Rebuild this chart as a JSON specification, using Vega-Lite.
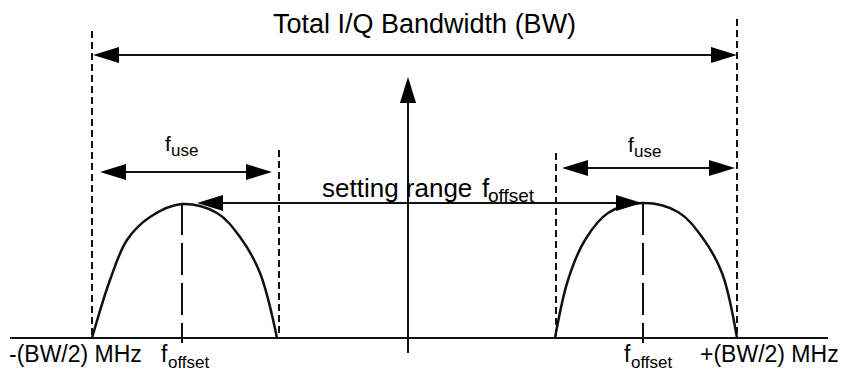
{
  "$schema": "https://vega.github.io/schema/vega-lite/v6.json",
  "width": 845,
  "height": 371,
  "autosize": {"type": "fit", "contains": "padding"},
  "padding": 0,
  "background": "white",
  "config": {"view": {"stroke": null}},
  "datasets": {
    "solid": [
      {"name": "baseline", "x": 10, "x2": 828, "y": 338, "y2": 338},
      {"name": "vertical", "x": 408, "x2": 408, "y": 90, "y2": 353},
      {"name": "bw", "x": 100, "x2": 730, "y": 55, "y2": 55},
      {"name": "fuse_left", "x": 110, "x2": 262, "y": 172, "y2": 172},
      {"name": "fuse_right", "x": 572, "x2": 725, "y": 168, "y2": 168},
      {"name": "setting", "x": 210, "x2": 630, "y": 203, "y2": 203}
    ],
    "dashed": [
      {"x": 92, "y": 31, "y2": 338, "style": "short"},
      {"x": 737, "y": 19, "y2": 338, "style": "short"},
      {"x": 279, "y": 150, "y2": 338, "style": "short"},
      {"x": 556, "y": 153, "y2": 338, "style": "short"},
      {"x": 182, "y": 203, "y2": 343, "style": "long"},
      {"x": 643, "y": 203, "y2": 343, "style": "long"}
    ],
    "curves": [
      {"bump": "left", "x": 92, "y": 338},
      {"bump": "left", "x": 110, "y": 280},
      {"bump": "left", "x": 127, "y": 240},
      {"bump": "left", "x": 150, "y": 217},
      {"bump": "left", "x": 182, "y": 204},
      {"bump": "left", "x": 217, "y": 213},
      {"bump": "left", "x": 240, "y": 237},
      {"bump": "left", "x": 260, "y": 273},
      {"bump": "left", "x": 277, "y": 338},
      {"bump": "right", "x": 555, "y": 338},
      {"bump": "right", "x": 568, "y": 280},
      {"bump": "right", "x": 585, "y": 240},
      {"bump": "right", "x": 608, "y": 213},
      {"bump": "right", "x": 643, "y": 203},
      {"bump": "right", "x": 678, "y": 212},
      {"bump": "right", "x": 702, "y": 237},
      {"bump": "right", "x": 722, "y": 273},
      {"bump": "right", "x": 737, "y": 338}
    ],
    "heads": [
      {"x": 93, "y": 55, "dir": "left"},
      {"x": 737, "y": 55, "dir": "right"},
      {"x": 408, "y": 77, "dir": "up"},
      {"x": 100, "y": 172, "dir": "left"},
      {"x": 272, "y": 172, "dir": "right"},
      {"x": 562, "y": 168, "dir": "left"},
      {"x": 735, "y": 168, "dir": "right"},
      {"x": 197, "y": 203, "dir": "left"},
      {"x": 642, "y": 203, "dir": "right"}
    ],
    "texts": [
      {"label": "Total I/Q Bandwidth (BW)", "x": 273, "y": 33, "role": "title"},
      {"label": "setting range", "x": 322, "y": 197, "role": "mid"},
      {"label": "f", "x": 482, "y": 197, "role": "mid"},
      {"label": "offset", "x": 488, "y": 202, "role": "midsub"},
      {"label": "f", "x": 165, "y": 151, "role": "fmain"},
      {"label": "use", "x": 171, "y": 156, "role": "sub"},
      {"label": "f", "x": 628, "y": 152, "role": "fmain"},
      {"label": "use", "x": 634, "y": 157, "role": "sub"},
      {"label": "-(BW/2) MHz", "x": 9, "y": 362, "role": "label"},
      {"label": "f", "x": 161, "y": 362, "role": "label"},
      {"label": "offset", "x": 168, "y": 368, "role": "smallsub"},
      {"label": "f", "x": 624, "y": 362, "role": "label"},
      {"label": "offset", "x": 631, "y": 368, "role": "smallsub"},
      {"label": "+(BW/2) MHz", "x": 700, "y": 362, "role": "label"}
    ]
  },
  "layer": [
    {
      "data": {"name": "solid"},
      "mark": {"type": "rule", "color": "#111111", "strokeWidth": 2},
      "encoding": {
        "x": {"field": "x", "type": "quantitative", "scale": {"domain": [0, 845], "nice": false, "zero": false}, "axis": null},
        "x2": {"field": "x2"},
        "y": {"field": "y", "type": "quantitative", "scale": {"domain": [0, 371], "nice": false, "zero": false, "reverse": true}, "axis": null},
        "y2": {"field": "y2"}
      }
    },
    {
      "data": {"name": "dashed"},
      "mark": {"type": "rule", "color": "#111111", "strokeWidth": 2},
      "encoding": {
        "x": {"field": "x", "type": "quantitative", "axis": null},
        "y": {"field": "y", "type": "quantitative", "axis": null},
        "y2": {"field": "y2"},
        "strokeDash": {"field": "style", "type": "nominal", "scale": {"domain": ["short", "long"], "range": [[7, 4], [32, 8]]}, "legend": null}
      }
    },
    {
      "data": {"name": "curves"},
      "mark": {"type": "line", "color": "#111111", "strokeWidth": 2.5, "interpolate": "catmull-rom"},
      "encoding": {
        "x": {"field": "x", "type": "quantitative", "axis": null},
        "y": {"field": "y", "type": "quantitative", "axis": null},
        "detail": {"field": "bump", "type": "nominal"}
      }
    },
    {
      "data": {"name": "heads"},
      "mark": {"type": "point", "filled": true, "opacity": 1, "color": "#000000", "strokeWidth": 0, "size": 676},
      "encoding": {
        "x": {"field": "x", "type": "quantitative", "axis": null},
        "y": {"field": "y", "type": "quantitative", "axis": null},
        "shape": {"field": "dir", "type": "nominal", "scale": {"domain": ["left", "right", "up"], "range": ["M0,0L2,-0.62L2,0.62Z", "M0,0L-2,-0.62L-2,0.62Z", "M0,0L-0.62,2L0.62,2Z"]}, "legend": null}
      }
    },
    {
      "data": {"name": "texts"},
      "mark": {"type": "text", "align": "left", "baseline": "alphabetic", "font": "Liberation Sans", "color": "#000000"},
      "encoding": {
        "x": {"field": "x", "type": "quantitative", "axis": null},
        "y": {"field": "y", "type": "quantitative", "axis": null},
        "text": {"field": "label", "type": "nominal"},
        "size": {"field": "role", "type": "nominal", "scale": {"type": "ordinal", "domain": ["title", "mid", "midsub", "fmain", "sub", "label", "smallsub"], "range": [27, 26, 19, 21, 17, 23, 17]}, "legend": null}
      }
    }
  ]
}
